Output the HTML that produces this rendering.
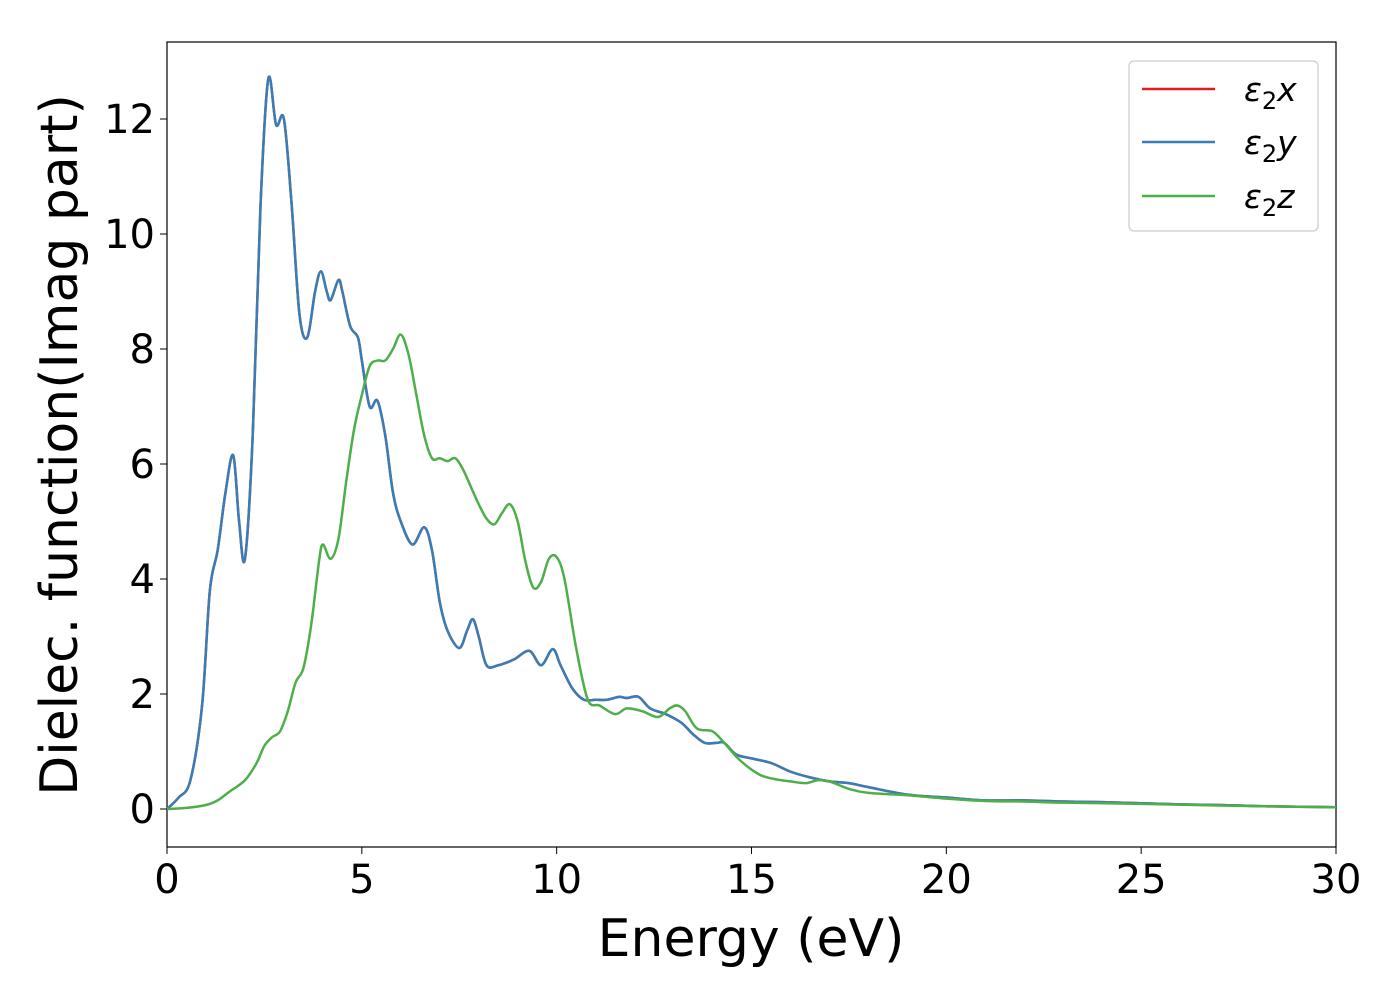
<!DOCTYPE html>
<html><head><meta charset="utf-8"><style>
body{margin:0;background:#fff;}
svg text{font-family:"DejaVu Sans","Liberation Sans",sans-serif;fill:#000;}
</style></head><body>
<svg id="chart" width="1400" height="1000" xmlns="http://www.w3.org/2000/svg">
<rect x="167" y="42" width="1169" height="805" fill="none" stroke="#000" stroke-width="1.2"/>
<g id="lines"></g>
<g id="xticks"></g>
<g id="yticks"></g>
<text x="751" y="956" font-size="52" text-anchor="middle">Energy (eV)</text>
<text transform="translate(77,445) rotate(-90)" font-size="52" text-anchor="middle">Dielec. function(Imag part)</text>
<g>
<rect x="1129" y="61" width="189" height="170" rx="5" fill="#fff" stroke="#ccc" stroke-width="1.2"/>
<line x1="1142" y1="89" x2="1215" y2="89" stroke="#e41a1c" stroke-width="2.5"/>
<text x="1244" y="101" font-size="33" font-style="italic">ε<tspan font-style="normal" font-size="24" dy="8">2</tspan><tspan dy="-8">x</tspan></text>
<line x1="1142" y1="142" x2="1215" y2="142" stroke="#377eb8" stroke-width="2.5"/>
<text x="1244" y="154" font-size="33" font-style="italic">ε<tspan font-style="normal" font-size="24" dy="8">2</tspan><tspan dy="-8">y</tspan></text>
<line x1="1142" y1="196" x2="1215" y2="196" stroke="#4daf4a" stroke-width="2.5"/>
<text x="1244" y="208" font-size="33" font-style="italic">ε<tspan font-style="normal" font-size="24" dy="8">2</tspan><tspan dy="-8">z</tspan></text>
</g>
</svg>
<script>
const xyEnergy=[0,0.3,0.6,0.9,1.1,1.3,1.5,1.7,1.85,2.0,2.2,2.4,2.6,2.8,3.0,3.2,3.4,3.6,3.8,3.95,4.1,4.2,4.4,4.5,4.7,4.9,5.0,5.2,5.4,5.6,5.8,6.0,6.3,6.6,6.8,7.0,7.2,7.5,7.7,7.85,8.0,8.2,8.5,8.9,9.3,9.6,9.9,10.1,10.4,10.7,11,11.3,11.6,11.8,12.1,12.4,12.8,13.2,13.5,13.8,14.1,14.3,14.6,15,15.5,16,16.5,17,17.5,18,19,20,21,22,23,24,25,26,27,28,29,30];
const xyValues=[0,0.2,0.5,1.8,3.8,4.5,5.5,6.15,5.0,4.35,6.5,10.5,12.7,11.9,12.0,10.5,8.6,8.2,9.0,9.35,9.0,8.85,9.2,9.0,8.4,8.2,7.8,7.0,7.1,6.5,5.5,5.0,4.6,4.9,4.5,3.6,3.1,2.8,3.1,3.3,3.0,2.5,2.5,2.6,2.75,2.5,2.78,2.5,2.1,1.9,1.9,1.9,1.95,1.93,1.95,1.75,1.65,1.5,1.3,1.15,1.15,1.15,0.95,0.88,0.8,0.65,0.55,0.48,0.45,0.38,0.25,0.2,0.15,0.15,0.13,0.12,0.1,0.08,0.07,0.05,0.04,0.03];
const zEnergy=[0,0.5,1.0,1.3,1.6,2.0,2.3,2.5,2.7,2.9,3.1,3.3,3.5,3.7,3.9,4.0,4.2,4.4,4.6,4.8,5.0,5.2,5.4,5.6,5.8,6.0,6.2,6.4,6.6,6.8,7.0,7.2,7.4,7.6,7.8,8.0,8.2,8.4,8.6,8.8,9.0,9.2,9.4,9.6,9.8,10.0,10.2,10.5,10.8,11.1,11.5,11.8,12.2,12.6,12.9,13.1,13.3,13.6,14.0,14.3,14.7,15.2,15.6,16.0,16.4,16.7,17.0,17.5,18,19,20,21,22,23,25,27,30];
const zValues=[0,0.02,0.07,0.15,0.3,0.5,0.8,1.1,1.25,1.35,1.7,2.2,2.45,3.2,4.3,4.6,4.35,4.7,5.7,6.6,7.2,7.7,7.8,7.8,8.0,8.25,7.9,7.2,6.5,6.1,6.1,6.05,6.1,5.9,5.6,5.3,5.05,4.95,5.15,5.3,5.0,4.3,3.85,3.95,4.35,4.38,4.0,2.8,1.9,1.8,1.65,1.75,1.7,1.6,1.75,1.8,1.7,1.4,1.35,1.15,0.85,0.6,0.52,0.48,0.45,0.5,0.48,0.35,0.28,0.24,0.18,0.14,0.13,0.11,0.09,0.06,0.03];
const xTicks=[0,5,10,15,20,25,30];
const yTicks=[0,2,4,6,8,10,12];
const X=v=>167+v/30*1169;
const Y=v=>809-v*57.5;
const NS='http://www.w3.org/2000/svg';
function pathFor(xs,ys){
  const p=xs.map((x,i)=>[X(x),Y(ys[i])]);
  let d='M'+p[0][0]+','+p[0][1];
  for(let i=0;i<p.length-1;i++){
    const p0=p[Math.max(0,i-1)],p1=p[i],p2=p[i+1],p3=p[Math.min(p.length-1,i+2)];
    const c1=[p1[0]+(p2[0]-p0[0])/6,p1[1]+(p2[1]-p0[1])/6];
    const c2=[p2[0]-(p3[0]-p1[0])/6,p2[1]-(p3[1]-p1[1])/6];
    d+=` C${c1[0]},${c1[1]} ${c2[0]},${c2[1]} ${p2[0]},${p2[1]}`;
  }
  return d;
}
const lines=document.getElementById('lines');
function addLine(xs,ys,color,name){
  const el=document.createElementNS(NS,'path');
  el.setAttribute('d',pathFor(xs,ys));
  el.setAttribute('fill','none');el.setAttribute('stroke',color);el.setAttribute('stroke-width','2.5');
  
  
  lines.appendChild(el);
}
addLine(xyEnergy,xyValues,'#e41a1c','series-eps2-x');
addLine(xyEnergy,xyValues,'#377eb8','series-eps2-y');
addLine(zEnergy,zValues,'#4daf4a','series-eps2-z');
const xg=document.getElementById('xticks');
xTicks.forEach(t=>{
  const l=document.createElementNS(NS,'line');
  l.setAttribute('x1',X(t));l.setAttribute('x2',X(t));l.setAttribute('y1',847);l.setAttribute('y2',854);l.setAttribute('stroke','#000');
  
  
  xg.appendChild(l);
  const tx=document.createElementNS(NS,'text');
  tx.setAttribute('x',X(t));tx.setAttribute('y',893);tx.setAttribute('font-size','40');tx.setAttribute('text-anchor','middle');
  tx.textContent=t;
  
  
  xg.appendChild(tx);
});
const yg=document.getElementById('yticks');
yTicks.forEach(t=>{
  const l=document.createElementNS(NS,'line');
  l.setAttribute('x1',160);l.setAttribute('x2',167);l.setAttribute('y1',Y(t));l.setAttribute('y2',Y(t));l.setAttribute('stroke','#000');
  
  
  yg.appendChild(l);
  const tx=document.createElementNS(NS,'text');
  tx.setAttribute('x',155);tx.setAttribute('y',Y(t)+14);tx.setAttribute('font-size','40');tx.setAttribute('text-anchor','end');
  tx.textContent=t;
  
  
  yg.appendChild(tx);
});
</script>
</body></html>
